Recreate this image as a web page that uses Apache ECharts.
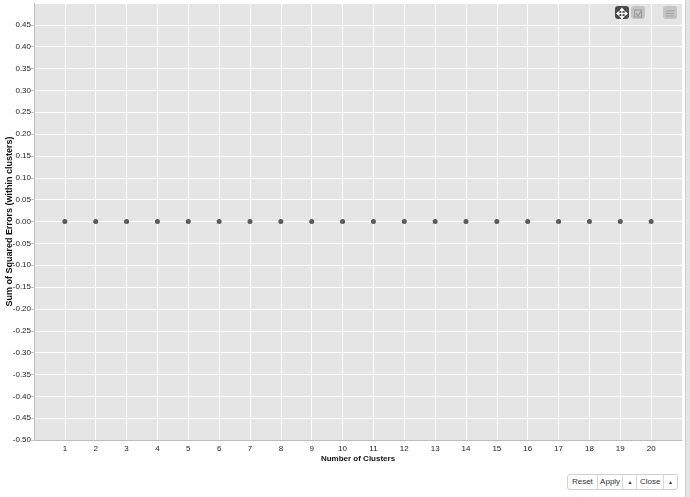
<!DOCTYPE html>
<html>
<head>
<meta charset="utf-8">
<script src="https://cdn.jsdelivr.net/npm/echarts@6/dist/echarts.min.js"></script>
<style>
  html, body { margin: 0; padding: 0; background: #fff; width: 690px; height: 497px; overflow: hidden; font-family: "Liberation Sans", Arial, sans-serif; }
  #chart { position: absolute; left: 0; top: 0; width: 690px; height: 497px; }
  .tb { position: absolute; width: 14px; height: 13px; border-radius: 3px; }
  #btns { position: absolute; left: 567px; top: 474px; height: 16px; display: flex; border: 1px solid #d0d0d0; border-radius: 3px; background: #fff; font-size: 8px; color: #333; box-sizing: border-box; width: 111px; }
  #btns div { line-height: 14px; border-left: 1px solid #d8d8d8; text-align: center; box-sizing: border-box; white-space: nowrap; overflow: hidden; }
  #btns div:first-child { border-left: none; }
  #btns .ar { font-size: 5px; }
  #strip { position: absolute; left: 685px; top: 0; width: 5px; height: 497px; background: #e4e4e4; border-left: 1px solid #cfcfcf; }
</style>
</head>
<body>
<div id="chart"></div>
<div id="strip"></div>
<div class="tb" style="left:615px;top:6px;background:#4a4a4a;">
  <svg width="14" height="13" viewBox="0 0 14 13"><g stroke="#fff" stroke-width="1.2" fill="#fff"><line x1="7" y1="2" x2="7" y2="11"/><line x1="2.5" y1="6.5" x2="11.5" y2="6.5"/><path d="M7 1.5 L5.5 3.3 L8.5 3.3Z"/><path d="M7 11.5 L5.5 9.7 L8.5 9.7Z"/><path d="M2 6.5 L3.8 5 L3.8 8Z"/><path d="M12 6.5 L10.2 5 L10.2 8Z"/></g></svg>
</div>
<div class="tb" style="left:631px;top:6px;background:#c4c4c4;">
  <svg width="14" height="13" viewBox="0 0 14 13"><rect x="3.5" y="3" width="7" height="7" fill="none" stroke="#9a9a9a" stroke-width="1"/><path d="M5 6.5 L7 8.5 L11 3.5" fill="none" stroke="#9a9a9a" stroke-width="1.2"/></svg>
</div>
<div class="tb" style="left:663px;top:6px;background:#c4c4c4;">
  <svg width="14" height="13" viewBox="0 0 14 13"><g stroke="#a5a5a5" stroke-width="1"><line x1="3" y1="4" x2="11" y2="4"/><line x1="3" y1="6.5" x2="11" y2="6.5"/><line x1="3" y1="9" x2="11" y2="9"/></g></svg>
</div>
<div id="btns"><div style="width:29px">Reset</div><div style="width:26px">Apply</div><div class="ar" style="width:14px">&#9650;</div><div style="width:27px">Close</div><div class="ar" style="width:14px">&#9650;</div></div>
<script>
const clusters = [1, 2, 3, 4, 5, 6, 7, 8, 9, 10, 11, 12, 13, 14, 15, 16, 17, 18, 19, 20];
const sse = [0, 0, 0, 0, 0, 0, 0, 0, 0, 0, 0, 0, 0, 0, 0, 0, 0, 0, 0, 0];
const xTitle = "Number of Clusters";
const yTitle = "Sum of Squared Errors (within clusters)";

const chart = echarts.init(document.getElementById('chart'), null, { renderer: 'canvas' });
const font = '"Liberation Sans", Arial, sans-serif';
chart.setOption({
  animation: false,
  grid: { left: 34, right: 8, top: 3, bottom: 57, show: true, backgroundColor: '#e5e5e5', borderWidth: 0,
          containLabel: false, outerBoundsMode: 'none' },
  xAxis: {
    type: 'value', min: 0, max: 21, interval: 1,
    name: xTitle, nameLocation: 'middle', nameGap: 15, nameMoveOverlap: false,
    nameTextStyle: { fontFamily: font, fontSize: 8, fontWeight: 'bold', color: '#111' },
    axisLine: { show: true, onZero: false, lineStyle: { color: '#bdbdbd', width: 1 } },
    axisTick: { show: false },
    axisLabel: { fontFamily: font, fontSize: 8, color: '#222', margin: 5, showMinLabel: false, showMaxLabel: false },
    splitLine: { show: true, lineStyle: { color: '#ffffff', width: 1 } }
  },
  yAxis: {
    type: 'value', min: -0.5, max: 0.5, interval: 0.05,
    name: yTitle, nameLocation: 'middle', nameGap: 20, nameRotate: 90, nameMoveOverlap: false,
    nameTextStyle: { fontFamily: font, fontSize: 9, fontWeight: 'bold', color: '#111' },
    axisLine: { show: true, onZero: false, lineStyle: { color: '#bdbdbd', width: 1 } },
    axisTick: { show: true, length: 3, lineStyle: { color: '#c8c8c8' } },
    axisLabel: { fontFamily: font, fontSize: 8, color: '#222', margin: 3, showMaxLabel: false,
      formatter: v => v.toFixed(2) },
    splitLine: { show: true, lineStyle: { color: '#ffffff', width: 1 } }
  },
  series: [{
    type: 'scatter',
    data: clusters.map((c, i) => [c, sse[i]]),
    symbol: 'circle', symbolSize: 5,
    itemStyle: { color: '#333333' }
  }]
});
</script>
</body>
</html>
